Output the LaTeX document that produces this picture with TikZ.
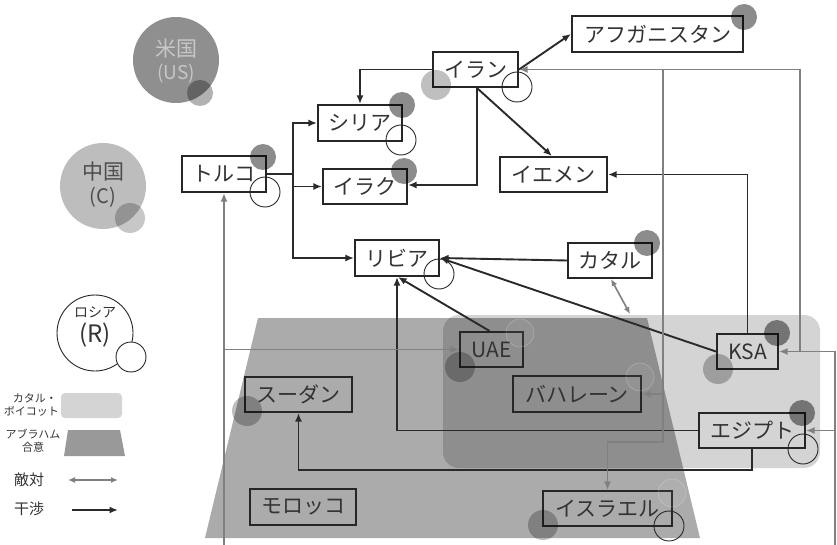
\documentclass[tikz,border=0pt]{standalone}
\usepackage{fontspec}
\setmainfont{Noto Sans CJK JP}
\usetikzlibrary{arrows.meta}
\definecolor{txt}{HTML}{333333}
\definecolor{lnk}{HTML}{2A2A2A}
\definecolor{gry}{HTML}{808080}
\newcommand\myfs[1]{\fontsize{#1}{#1}\selectfont}
\begin{document}
\begin{tikzpicture}[x=1pt,y=-1pt,
  box/.style={draw=black!85, line width=2.1pt, inner sep=0pt, text=txt, font=\myfs{21}},
  lk/.style={draw=lnk, line width=1.9pt, -{Latex[length=8.5pt,width=7pt]}},
  gk/.style={draw=gry, line width=1.9pt, -{Latex[length=8.5pt,width=7pt]}},
  gdbl/.style={draw=gry, line width=1.6pt, {Latex[length=7pt,width=6pt]}-{Latex[length=7pt,width=6pt]}},
  usm/.style={fill=black, fill opacity=0.45},
  cnm/.style={fill=black, fill opacity=0.25},
  rum/.style={draw=black!85, line width=0.9pt},
  faint/.style={fill=white, fill opacity=0.05, draw=white, draw opacity=0.25, line width=0.6pt},
  lab/.style={inner sep=0pt, text=txt}]
\useasboundingbox (0,0) rectangle (837,545);
\fill[white] (0,0) rectangle (837,545);

% background regions
\fill[black, opacity=0.33] (258,318) -- (647,318) -- (700,538) -- (205,538) -- cycle;
\fill[black, opacity=0.17, rounded corners=16pt] (443,315) rectangle (820,468);

% legend circles
\fill[black, opacity=0.44] (176,60) circle (43pt);
\fill[black, opacity=0.3] (200,93) circle (13pt);
\node[lab, text=black!22, font=\myfs{21}] (usA) at (176,49) {米国};
\node[lab, text=black!22, font=\myfs{19}] (usB) at (176,74) {(US)};
\fill[black, opacity=0.26] (103,186) circle (43pt);
\fill[black, opacity=0.22] (130,218) circle (15pt);
\node[lab, text=black!70, font=\myfs{21}] (cnA) at (103,172) {中国};
\node[lab, text=black!70, font=\myfs{20}] (cnB) at (103,197) {(C)};
\draw[rum] (95,333) circle (38pt);
\draw[rum, fill=white] (131,357) circle (15pt);
\node[lab, font=\myfs{14}] (ruA) at (95,312) {ロシア};
\node[lab, font=\myfs{24}] (ruB) at (95,335) {(R)};

% legend swatches
\fill[black, opacity=0.17, rounded corners=4pt] (61,393) rectangle (122,418);
\node[lab, font=\myfs{11}, anchor=east] (lgA) at (57,398) {カタル・};
\node[lab, font=\myfs{11}, anchor=east] (lgB) at (59,411) {ボイコット};
\fill[black, opacity=0.4] (68,430) -- (120,430) -- (125,456) -- (64,456) -- cycle;
\node[lab, font=\myfs{11}] (lgC) at (33,434) {アブラハム};
\node[lab, font=\myfs{11}] (lgD) at (33,447) {合意};
\node[lab, font=\myfs{15}] (lgE) at (29,480) {敵対};
\node[lab, font=\myfs{15}] (lgF) at (29,509) {干渉};
\coordinate (la1) at (68,480); \coordinate (la2) at (118,480);
\coordinate (lb1) at (72,510); \coordinate (lb2) at (118,510);
\draw[gdbl] (la1) -- (la2);
\draw[lk] (lb1) -- (lb2);

% boxes
\node[box, minimum width=171pt, minimum height=36pt] (afg) at (657.5,34) {アフガニスタン};
\node[box, minimum width=85pt, minimum height=35pt] (iran) at (475.5,69.5) {イラン};
\node[box, minimum width=84pt, minimum height=36pt] (syria) at (360,123) {シリア};
\node[box, minimum width=84pt, minimum height=35pt] (iraq) at (365,186.5) {イラク};
\node[box, minimum width=84pt, minimum height=36pt] (turkey) at (224,174) {トルコ};
\node[box, minimum width=107pt, minimum height=35pt] (yemen) at (553.5,174.5) {イエメン};
\node[box, minimum width=84pt, minimum height=36pt] (libya) at (397,258) {リビア};
\node[box, minimum width=84pt, minimum height=35pt] (qatar) at (610,260.5) {カタル};
\node[box, minimum width=63pt, minimum height=35pt] (uae) at (491.5,349.5) {UAE};
\node[box, minimum width=128pt, minimum height=36pt] (bahrain) at (577,394) {バハレーン};
\node[box, minimum width=61pt, minimum height=35pt] (ksa) at (747.5,351.5) {KSA};
\node[box, minimum width=106pt, minimum height=35pt] (egypt) at (752,430.5) {エジプト};
\node[box, minimum width=107pt, minimum height=35pt] (sudan) at (298.5,394.5) {スーダン};
\node[box, minimum width=106pt, minimum height=36pt] (morocco) at (303,507) {モロッコ};
\node[box, minimum width=129pt, minimum height=35pt] (israel) at (607.5,508.5) {イスラエル};

% interference (black) connectors
\coordinate (tj) at (293,174);
\draw[lk] (iran.east) -- (afg.west);
\draw[lk] (iran.west) -| (syria.north);
\draw[lk] ([xshift=1.5pt]iran.south) |- ([yshift=1.5pt]iraq.east);
\draw[lk] ([xshift=1.5pt]iran.south) -- ([xshift=-1.5pt]yemen.north);
\draw[draw=lnk, line width=1.9pt] (turkey.east) -- (tj);
\draw[lk] (tj) |- (syria.west);
\draw[lk] (tj) |- (libya.west);
\draw[lk] (tj |- iraq.west) -- (iraq.west);
\draw[lk] (ksa.north) |- (yemen.east);
\draw[lk] (qatar.west) -- (libya.east);
\draw[lk] (ksa.west) -- (libya.east);
\draw[lk] ([xshift=-2pt]uae.north) -- ([xshift=1pt]libya.south);
\draw[lk] (egypt.west) -| (libya.south);
\draw[lk] (egypt.south) -- ++(0,21) -| (sudan.south);

% grey connectors
\coordinate (bl) at (224,545);
\coordinate (br) at (835,545);
\coordinate (gx) at (800,69.5);
\coordinate (gm) at (663,69.5);
\coordinate (abr) at (630,314);
\draw[gk] (bl) -- (turkey.south);
\draw[gk] (bl |- uae.west) -- (uae.west);
\draw[gk] (br) |- (ksa.east);
\draw[gk] (br |- egypt.east) -- (egypt.east);
\draw[gk] (gx |- ksa.east) -- (gx) -- (iran.east);
\draw[gk] (gm) -- (663,442) -| (israel.north);
\draw[gk] (gm |- bahrain.east) -- (bahrain.east);
\draw[gdbl] ([xshift=1pt]qatar.south) -- (abr);

% US markers
\fill[usm] (744,17) circle (13pt);
\fill[usm] (402,105) circle (13pt);
\fill[usm] (404,171) circle (13pt);
\fill[usm] (263,157) circle (13pt);
\fill[usm] (647,243) circle (13pt);
\fill[usm] (777,333) circle (13pt);
\fill[usm] (802,413) circle (13pt);
% China markers
\fill[cnm] (436,85) circle (15pt);
\fill[cnm] (460,367) circle (15pt);
\fill[cnm] (718,369) circle (15pt);
\fill[cnm] (247,411) circle (15pt);
\fill[cnm] (543,525) circle (15pt);
% faint markers
\path[faint] (520,333) circle (14pt);
\path[faint] (640,377) circle (14pt);
\path[faint] (672,493) circle (14pt);
% Russia markers
\draw[rum] (517,87) circle (15pt);
\draw[rum] (401,140) circle (15pt);
\draw[rum] (265,192) circle (15pt);
\draw[rum] (439,274) circle (15pt);
\draw[rum] (803,449) circle (15pt);
\draw[rum] (669,526) circle (15pt);
\end{tikzpicture}
\end{document}
